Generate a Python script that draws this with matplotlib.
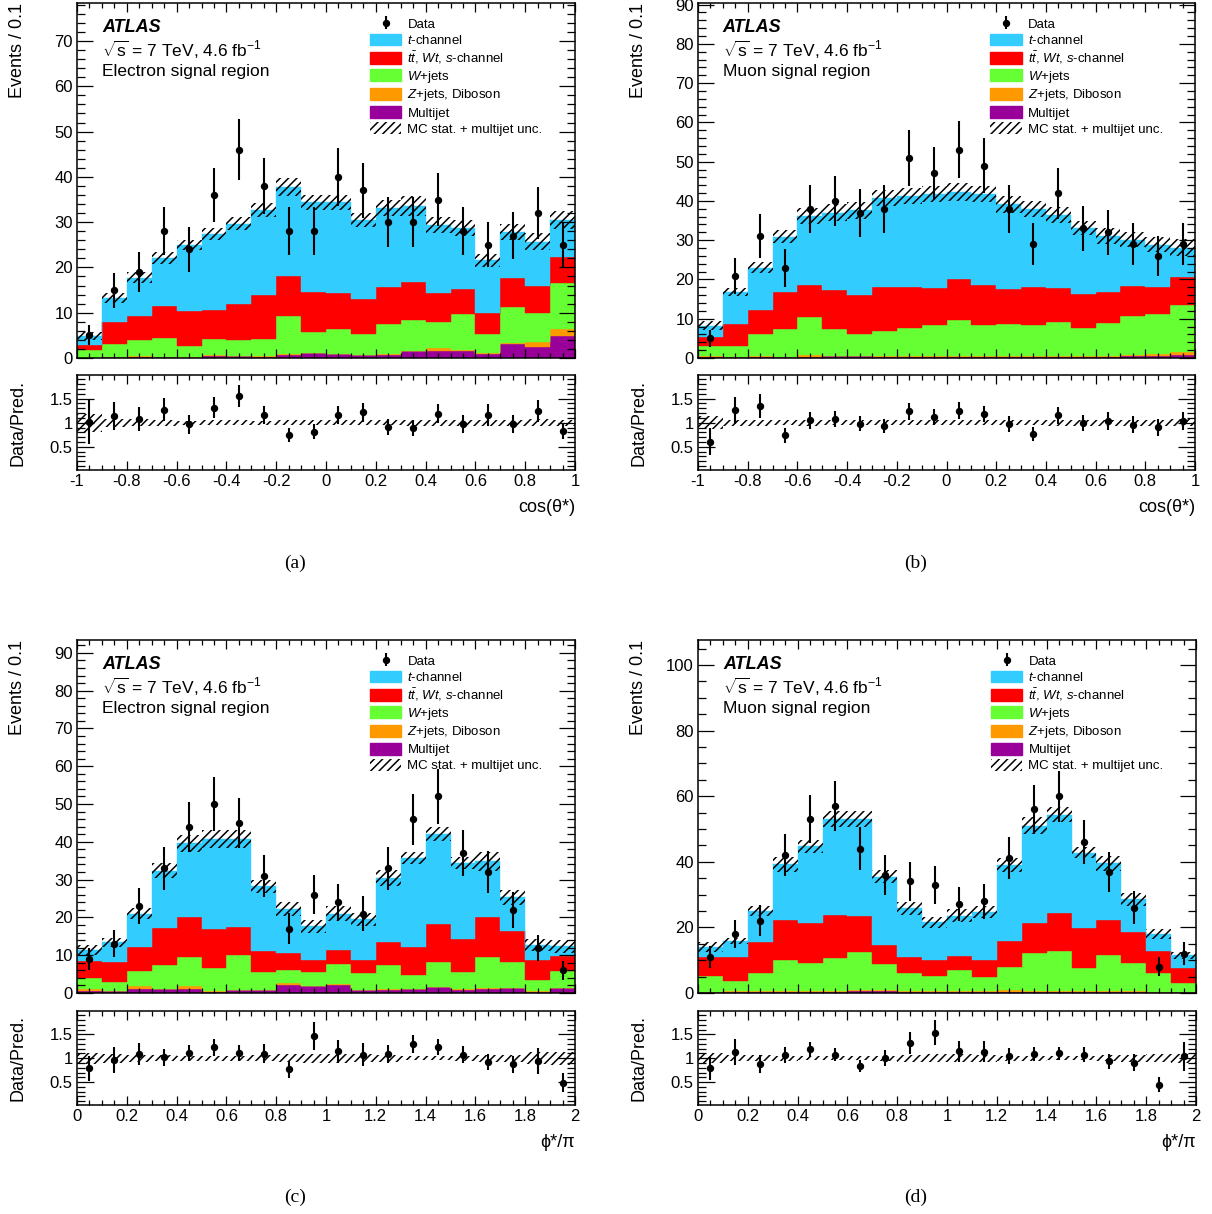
import numpy as np
import matplotlib
matplotlib.use("Agg")
import matplotlib.pyplot as plt
from matplotlib.patches import Patch
from matplotlib.ticker import MultipleLocator, FuncFormatter

plt.rcParams['font.family'] = ['Liberation Sans', 'DejaVu Sans']
plt.rcParams['mathtext.fontset'] = 'custom'
plt.rcParams['mathtext.rm'] = 'Liberation Sans'
plt.rcParams['mathtext.it'] = 'Liberation Sans:italic'
plt.rcParams['mathtext.bf'] = 'Liberation Sans:bold'
plt.rcParams['axes.unicode_minus'] = False
plt.rcParams['hatch.linewidth'] = 1.1

cos_edges = np.round(np.arange(-1, 1.001, 0.1), 2)
phi_edges = np.round(np.arange(0, 2.001, 0.1), 2)

# (a) electron channel, cos(theta*)
a_data = [5, 15, 19, 28, 24, 36, 46, 38, 28, 28, 40, 37, 30, 30, 35, 28, 25, 27, 32, 25]
a_multijet = [0.1, 0.2, 0.3, 0.2, 0.1, 0.5, 0.4, 0.3, 0.7, 1.0, 0.8, 0.6, 0.7, 1.5, 1.5, 1.6, 0.9, 3.2, 2.5, 4.8]
a_zjets = [0.0, 0.0, 0.1, 0.1, 0.1, 0.1, 0.1, 0.1, 0.1, 0.1, 0.1, 0.1, 0.1, 0.1, 0.6, 0.2, 0.3, 0.1, 1.0, 1.6]
a_wjets = [1.6, 3.0, 3.6, 4.2, 2.4, 3.6, 3.5, 3.9, 8.4, 4.7, 5.6, 4.7, 6.6, 6.9, 5.8, 8.0, 4.1, 8.0, 6.4, 10.1]
a_top = [1.2, 4.7, 5.2, 7.0, 7.8, 6.5, 8.0, 9.7, 8.8, 8.8, 7.8, 7.6, 8.3, 8.2, 6.4, 5.4, 4.6, 6.3, 6.1, 5.8]
a_tchan = [2.0, 5.3, 8.5, 10.6, 14.5, 16.7, 17.7, 18.7, 19.7, 19.8, 20.1, 17.5, 17.4, 16.8, 15.1, 13.5, 11.7, 10.2, 9.7, 8.1]
a_unc = [0.9, 1.1, 1.2, 1.4, 1.1, 1.3, 1.4, 1.5, 2.0, 1.7, 1.7, 1.5, 1.8, 2.2, 1.8, 1.8, 1.4, 1.7, 1.8, 2.0]

# (b) muon channel, cos(theta*)
b_data = [5, 21, 31, 23, 38, 40, 37, 38, 51, 47, 53, 49, 38, 29, 42, 33, 32, 29, 26, 29]
b_multijet = [0.3, 0.2, 0.3, 0.2, 0.2, 0.4, 0.4, 0.3, 0.2, 0.3, 0.2, 0.3, 0.3, 0.3, 0.3, 0.3, 0.3, 0.5, 0.5, 0.7]
b_zjets = [0.1, 0.1, 0.1, 0.1, 0.5, 0.1, 0.1, 0.2, 0.2, 0.3, 0.2, 0.2, 0.3, 0.2, 0.3, 0.3, 0.3, 0.3, 0.6, 0.8]
b_wjets = [2.6, 2.7, 5.8, 7.0, 9.7, 6.8, 5.7, 6.5, 7.3, 7.9, 9.2, 8.0, 8.1, 8.0, 8.5, 7.1, 8.4, 9.9, 10.1, 12.0]
b_top = [2.3, 5.7, 6.1, 9.6, 8.2, 10.1, 9.9, 11.1, 10.4, 9.4, 10.5, 10.1, 8.9, 9.6, 8.7, 8.6, 7.7, 7.7, 6.8, 7.2]
b_tchan = [2.9, 8.0, 10.7, 14.0, 17.6, 19.6, 21.5, 22.7, 23.2, 23.8, 22.2, 23.1, 21.5, 19.8, 18.6, 16.8, 14.3, 11.7, 10.8, 7.4]
b_unc = [1.1, 1.0, 1.4, 1.7, 2.1, 2.1, 2.1, 2.1, 2.1, 2.1, 2.2, 2.1, 2.1, 2.1, 2.1, 1.9, 2.0, 1.9, 1.9, 2.1]

# (c) electron channel, phi*/pi
c_data = [9, 13, 23, 33, 44, 50, 45, 31, 17, 26, 24, 21, 33, 46, 52, 37, 32, 22, 12, 6]
c_multijet = [0.6, 0.5, 1.1, 1.0, 1.0, 0.3, 0.7, 0.8, 2.2, 1.8, 2.2, 0.7, 0.8, 1.0, 1.5, 0.9, 1.1, 1.3, 0.3, 1.3]
c_zjets = [0.4, 0.1, 0.8, 0.1, 0.8, 0.1, 0.1, 0.1, 0.4, 0.1, 0.1, 0.1, 0.2, 0.1, 0.1, 0.1, 0.1, 0.1, 0.1, 0.1]
c_wjets = [3.0, 2.3, 4.0, 6.4, 7.6, 6.3, 9.3, 4.6, 3.4, 3.6, 5.3, 4.5, 6.4, 3.6, 6.7, 4.5, 8.3, 6.9, 3.1, 4.5]
c_top = [4.5, 5.4, 6.2, 9.8, 10.8, 10.3, 7.4, 5.6, 4.5, 3.3, 3.7, 3.5, 6.2, 7.5, 10.0, 8.8, 10.6, 8.0, 5.3, 3.8]
c_tchan = [2.9, 5.1, 8.9, 15.1, 19.4, 23.7, 23.2, 17.1, 11.7, 8.9, 9.7, 10.7, 16.9, 23.4, 23.7, 20.1, 14.8, 9.0, 3.9, 2.7]
c_unc = [1.3, 1.2, 1.5, 2.0, 2.2, 2.3, 2.3, 1.8, 1.8, 1.7, 2.0, 1.7, 2.1, 1.6, 1.9, 1.7, 2.5, 1.9, 1.6, 1.7]

# (d) muon channel, phi*/pi
d_data = [11, 18, 22, 42, 53, 57, 44, 36, 34, 33, 27, 28, 41, 56, 60, 46, 37, 26, 8, 12]
d_multijet = [0.2, 0.3, 0.3, 0.3, 0.3, 0.3, 0.6, 0.6, 0.3, 0.3, 0.3, 0.3, 0.3, 0.3, 0.3, 0.3, 0.3, 0.3, 0.2, 0.2]
d_zjets = [0.2, 0.2, 0.2, 0.3, 0.3, 0.3, 0.3, 0.2, 0.3, 0.4, 0.3, 0.3, 0.5, 0.4, 0.4, 0.4, 0.3, 0.3, 0.2, 0.2]
d_wjets = [4.9, 3.3, 5.6, 9.5, 8.5, 10.1, 11.6, 8.0, 5.5, 4.6, 6.5, 4.3, 7.1, 11.5, 12.1, 6.8, 11.0, 8.6, 5.6, 2.6]
d_top = [5.6, 7.3, 9.5, 12.2, 12.1, 13.2, 11.0, 5.8, 4.9, 4.8, 4.1, 5.2, 7.9, 9.1, 11.7, 12.3, 10.6, 9.4, 6.9, 4.7]
d_tchan = [3.0, 4.8, 9.5, 16.9, 23.5, 29.1, 29.5, 20.9, 14.8, 11.4, 12.4, 14.5, 23.1, 29.7, 29.9, 23.0, 17.4, 10.0, 5.1, 3.8]
d_unc = [1.5, 1.0, 1.5, 2.2, 2.0, 2.5, 2.5, 2.0, 2.0, 1.8, 2.0, 1.8, 2.1, 2.5, 2.4, 1.8, 2.3, 2.0, 1.5, 1.1]

colors = ['#990099', '#ff9900', '#66ff33', '#ff0000', '#33ccff']
labels = ['Data', '$t$-channel', r'$t\bar{t}$, $Wt$, $s$-channel', '$W$+jets',
          '$Z$+jets, Diboson', 'Multijet', 'MC stat. + multijet unc.']
HATCH = '////'

W, H = 1212, 1214
fig = plt.figure(figsize=(W / 100, H / 100), dpi=100)


def box(x0, y0, x1, y1):
    return [x0 / W, 1 - y1 / H, (x1 - x0) / W, (y1 - y0) / H]


fmt = FuncFormatter(lambda v, p: '%g' % round(v, 3))


def style(ax, xmajor, xminor, ymajor, yminor):
    ax.xaxis.set_major_locator(MultipleLocator(xmajor))
    ax.xaxis.set_minor_locator(MultipleLocator(xminor))
    ax.yaxis.set_major_locator(MultipleLocator(ymajor))
    ax.yaxis.set_minor_locator(MultipleLocator(yminor))
    ax.xaxis.set_major_formatter(fmt)
    ax.yaxis.set_major_formatter(fmt)
    ax.tick_params(which='both', direction='in', top=True, right=True, width=0.9,
                   labelsize=12, pad=3)
    ax.tick_params(axis='x', which='major', length=6.5)
    ax.tick_params(axis='x', which='minor', length=3.5)
    ax.tick_params(axis='y', which='major', length=11.5)
    ax.tick_params(axis='y', which='minor', length=5.8)
    for s in ax.spines.values():
        s.set_linewidth(1.1)


def panel(main_px, ratio_px, edges, data, comps, unc, ymax, ymaj, ymin,
          region, xlabel, tag, tag_xy):
    ax = fig.add_axes(box(*main_px))
    rx = fig.add_axes(box(*ratio_px))
    data = np.array(data, float)
    unc = np.array(unc, float)
    centers = (edges[:-1] + edges[1:]) / 2

    bottom = np.zeros(len(data))
    for vals, col in zip(comps, colors):
        top = bottom + np.array(vals)
        ax.stairs(top, edges, baseline=bottom, fill=True, facecolor=col,
                  edgecolor=col, lw=0.3)
        bottom = top
    total = bottom
    ax.stairs(total + unc, edges, baseline=total - unc, fill=True, facecolor='none',
              edgecolor='black', hatch=HATCH, lw=0)
    h_data = ax.errorbar(centers, data, yerr=np.sqrt(data), fmt='o', color='black',
                         ms=4.3, elinewidth=1.5, capsize=0, zorder=5)

    ax.set_xlim(edges[0], edges[-1])
    ax.set_ylim(0, ymax)
    style(ax, 0.2, 0.05, ymaj, ymin)
    ax.tick_params(labelbottom=False)
    ax.set_ylabel('Events / 0.1', loc='top', fontsize=13)
    ax.yaxis.set_label_coords(-0.102, 1.0)

    ax.text(0.05, 0.93, 'ATLAS', transform=ax.transAxes, fontsize=13,
            fontweight='bold', fontstyle='italic', va='center')
    ax.text(0.05, 0.868, r'$\sqrt{\mathrm{s}}$ = 7 TeV, 4.6 fb$^{-1}$',
            transform=ax.transAxes, fontsize=12.5, va='center')
    ax.text(0.05, 0.807, region, transform=ax.transAxes, fontsize=12.5, va='center')

    handles = [h_data] + [Patch(facecolor=c, edgecolor=c) for c in colors[::-1]] + \
              [Patch(facecolor='white', edgecolor='black', hatch=HATCH, lw=0)]
    ax.legend(handles, labels, loc='upper left', bbox_to_anchor=(0.588, 0.959),
              frameon=False, fontsize=9.5, borderpad=0, borderaxespad=0,
              handlelength=2.4, handleheight=1.0, handletextpad=0.45,
              labelspacing=0.2)

    # ratio panel
    ratio = data / total
    rerr = np.sqrt(data) / total
    rx.stairs(1 + unc / total, edges, baseline=1 - unc / total, fill=True,
              facecolor='none', edgecolor='black', hatch=HATCH, lw=0)
    rx.errorbar(centers, ratio, yerr=rerr, fmt='o', color='black', ms=4.3,
                elinewidth=1.5, capsize=0, zorder=5)
    rx.set_xlim(edges[0], edges[-1])
    rx.set_ylim(0.02, 1.99)
    style(rx, 0.2, 0.05, 0.5, 0.1)
    rx.tick_params(axis='y', which='major', length=12)
    rx.set_ylabel('Data/Pred.', fontsize=13)
    rx.yaxis.set_label_coords(-0.102, 0.5)
    rx.set_xlabel(xlabel, loc='right', fontsize=13, labelpad=7,
                  family=['Liberation Sans', 'DejaVu Sans'])

    fig.text(tag_xy[0] / W, 1 - tag_xy[1] / H, tag, ha='center', va='center',
             family='Liberation Serif', fontsize=14)


panel((77, 3, 575, 358), (77, 375, 575, 470), cos_edges, a_data,
      [a_multijet, a_zjets, a_wjets, a_top, a_tchan], a_unc, 78.4, 10, 2,
      'Electron signal region', 'cos(θ*)', '(a)', (295, 563))
panel((698, 3, 1195, 358), (698, 375, 1195, 470), cos_edges, b_data,
      [b_multijet, b_zjets, b_wjets, b_top, b_tchan], b_unc, 90.4, 10, 2,
      'Muon signal region', 'cos(θ*)', '(b)', (916, 563))
panel((77, 640, 575, 993), (77, 1011, 575, 1105), phi_edges, c_data,
      [c_multijet, c_zjets, c_wjets, c_top, c_tchan], c_unc, 93.4, 10, 2,
      'Electron signal region', 'ϕ*/π', '(c)', (295, 1197))
panel((698, 640, 1196, 993), (698, 1011, 1196, 1105), phi_edges, d_data,
      [d_multijet, d_zjets, d_wjets, d_top, d_tchan], d_unc, 107.6, 20, 5,
      'Muon signal region', 'ϕ*/π', '(d)', (916, 1197))

fig.savefig('out.png', dpi=100)
